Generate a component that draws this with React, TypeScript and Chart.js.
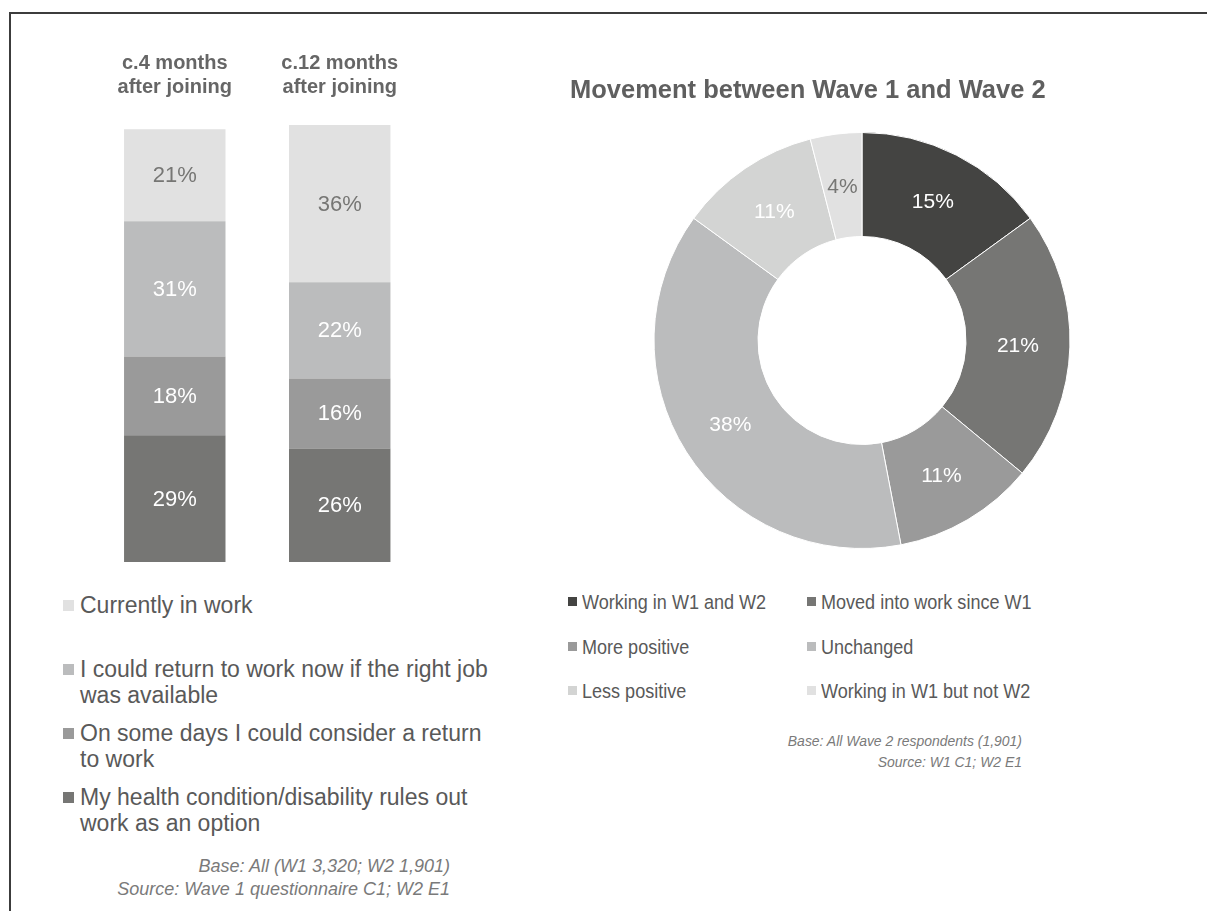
import React, { useEffect, useRef } from "react";
import { Chart, registerables } from "chart.js";

Chart.register(...registerables);

const FONT = "'Liberation Sans', Arial, sans-serif";

// ---- Stacked bar data ----
const barCategories = [
  ["c.4 months", "after joining"],
  ["c.12 months", "after joining"],
];
const barSeriesNames = [
  "My health condition/disability rules out work as an option",
  "On some days I could consider a return to work",
  "I could return to work now if the right job was available",
  "Currently in work",
];
const healthRulesOut = [29, 26];
const someDaysConsider = [18, 16];
const couldReturnNow = [31, 22];
const currentlyInWork = [21, 36];
const barColors = ["#767674", "#9a9a9a", "#bbbcbd", "#e1e1e1"];
const barLabelColors = ["#ffffff", "#ffffff", "#ffffff", "#767674"];

// ---- Doughnut data ----
const donutTitle = "Movement between Wave 1 and Wave 2";
const donutCategories = [
  "Working in W1 and W2",
  "Moved into work since W1",
  "More positive",
  "Unchanged",
  "Less positive",
  "Working in W1 but not W2",
];
const donutValues = [15, 21, 11, 38, 11, 4];
const donutColors = ["#444442", "#767674", "#9a9a9a", "#bbbcbd", "#d3d4d3", "#e1e1e1"];
const donutLabelColors = ["#ffffff", "#ffffff", "#ffffff", "#ffffff", "#ffffff", "#767674"];

const leftNotes = ["Base: All (W1 3,320; W2 1,901)", "Source: Wave 1 questionnaire C1; W2 E1"];
const rightNotes = ["Base: All Wave 2 respondents (1,901)", "Source: W1 C1; W2 E1"];

const valueLabels = {
  id: "valueLabels",
  afterDatasetsDraw(chart: any, _args: any, opts: any) {
    const ctx = chart.ctx;
    ctx.save();
    ctx.font = opts.font;
    ctx.textAlign = "center";
    ctx.textBaseline = "middle";
    chart.data.datasets.forEach((ds: any, i: number) => {
      const meta = chart.getDatasetMeta(i);
      meta.data.forEach((el: any, j: number) => {
        const v = ds.data[j];
        let x: number, y: number;
        if (opts.mode === "arc") {
          const p = el.tooltipPosition();
          x = p.x;
          y = p.y;
          ctx.fillStyle = opts.colors[j];
        } else {
          x = el.x;
          y = (el.y + el.base) / 2;
          ctx.fillStyle = opts.colors[i];
        }
        ctx.fillText(v + "%", x, y + 1);
      });
    });
    ctx.restore();
  },
};

function BarChart() {
  const ref = useRef<HTMLCanvasElement>(null);
  useEffect(() => {
    const series = [healthRulesOut, someDaysConsider, couldReturnNow, currentlyInWork];
    const chart = new Chart(ref.current!, {
      type: "bar",
      data: {
        labels: barCategories as any,
        datasets: series.map((d, i) => ({
          label: barSeriesNames[i],
          data: d,
          backgroundColor: barColors[i],
          borderWidth: 0,
          barPercentage: 0.615,
          categoryPercentage: 1,
        })),
      },
      options: {
        animation: false,
        responsive: false,
        maintainAspectRatio: false,
        layout: { padding: 0 },
        scales: {
          x: {
            stacked: true,
            position: "top",
            grid: { display: false, drawTicks: false },
            border: { display: false },
            ticks: {
              color: "#666666",
              padding: 26,
              font: { family: FONT, size: 20, weight: "bold", lineHeight: 1.2 },
            },
          },
          y: {
            stacked: true,
            display: false,
            min: 0,
            max: 100,
          },
        },
        plugins: {
          legend: { display: false },
          tooltip: { enabled: false },
          valueLabels: { font: `22px ${FONT}`, colors: barLabelColors, mode: "bar" },
        } as any,
      },
      plugins: [valueLabels as any],
    });
    return () => chart.destroy();
  }, []);
  return (
    <canvas
      ref={ref}
      width={332}
      height={537}
      style={{ position: "absolute", left: 92, top: 25, width: 332, height: 537 }}
    />
  );
}

function DonutChart() {
  const ref = useRef<HTMLCanvasElement>(null);
  useEffect(() => {
    const chart = new Chart(ref.current!, {
      type: "doughnut",
      data: {
        labels: donutCategories,
        datasets: [
          {
            data: donutValues,
            backgroundColor: donutColors,
            borderColor: "#ffffff",
            borderWidth: 1,
          },
        ],
      },
      options: {
        animation: false,
        responsive: false,
        maintainAspectRatio: false,
        cutout: "50%",
        layout: { padding: 0 },
        plugins: {
          legend: { display: false },
          tooltip: { enabled: false },
          title: {
            display: true,
            text: donutTitle,
            align: "start",
            color: "#5f5f5f",
            font: { family: FONT, size: 25.5, weight: "bold", lineHeight: 1.2 },
            padding: { top: 6, bottom: 25.4 },
          },
          valueLabels: { font: `21px ${FONT}`, colors: donutLabelColors, mode: "arc" },
        } as any,
      },
      plugins: [valueLabels as any],
    });
    return () => chart.destroy();
  }, []);
  return (
    <canvas
      ref={ref}
      width={584}
      height={479}
      style={{ position: "absolute", left: 570, top: 70, width: 584, height: 479 }}
    />
  );
}

export default function App() {
  const leftLegend = [3, 2, 1, 0];
  return (
    <div
      style={{
        position: "fixed",
        left: 0,
        top: 0,
        width: 1207,
        height: 911,
        background: "#ffffff",
        overflow: "hidden",
        fontFamily: FONT,
      }}
    >
      <div
        style={{
          position: "absolute",
          left: 9,
          top: 12,
          width: 1200,
          height: 910,
          borderTop: "2px solid #3c3c3c",
          borderLeft: "2px solid #3c3c3c",
        }}
      />
      <BarChart />
      <DonutChart />

      {/* Left legend */}
      {leftLegend.map((si, k) => (
        <div
          key={si}
          style={{
            position: "absolute",
            left: 63,
            top: 592 + k * 64,
            width: 440,
            height: 64,
            color: "#595959",
            fontSize: 23,
            lineHeight: "26px",
          }}
        >
          <div
            style={{
              position: "absolute",
              left: 0,
              top: 8,
              width: 11,
              height: 11,
              background: barColors[si],
            }}
          />
          <div style={{ position: "absolute", left: 17, top: 0, width: 415 }}>{barSeriesNames[si]}</div>
        </div>
      ))}

      {/* Left notes */}
      <div
        style={{
          position: "absolute",
          left: 60,
          top: 855,
          width: 390,
          textAlign: "right",
          fontStyle: "italic",
          fontSize: 18,
          lineHeight: "23px",
          color: "#7a7a7a",
        }}
      >
        {leftNotes.map((t) => (
          <div key={t}>{t}</div>
        ))}
      </div>

      {/* Right legend */}
      {donutCategories.map((name, i) => {
        const col = i % 2;
        const row = Math.floor(i / 2);
        return (
          <div
            key={name}
            style={{
              position: "absolute",
              left: col === 0 ? 568 : 807,
              top: 589 + row * 44.5,
              height: 26,
              color: "#595959",
              fontSize: 20.5,
              lineHeight: "26px",
              whiteSpace: "nowrap",
            }}
          >
            <div
              style={{
                position: "absolute",
                left: 0,
                top: 8,
                width: 9,
                height: 9,
                background: donutColors[i],
              }}
            />
            <div
              style={{
                position: "absolute",
                left: 14,
                top: 0,
                transform: "scaleX(0.88)",
                transformOrigin: "left center",
              }}
            >
              {name}
            </div>
          </div>
        );
      })}

      {/* Right notes */}
      <div
        style={{
          position: "absolute",
          left: 622,
          top: 730,
          width: 400,
          textAlign: "right",
          fontStyle: "italic",
          fontSize: 15.5,
          lineHeight: "21px",
          color: "#7a7a7a",
          transform: "scaleX(0.9)",
          transformOrigin: "right center",
        }}
      >
        {rightNotes.map((t) => (
          <div key={t}>{t}</div>
        ))}
      </div>
    </div>
  );
}
